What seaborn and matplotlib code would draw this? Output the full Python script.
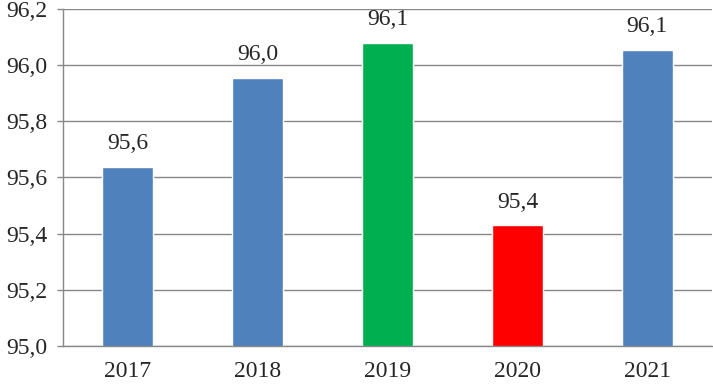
from matplotlib import pyplot as plt
from matplotlib.ticker import FuncFormatter, MultipleLocator
import pandas as pd
import seaborn as sns

years = ["2017", "2018", "2019", "2020", "2021"]
values = [95.638, 95.955, 96.080, 95.429, 96.055]
labels = ["95,6", "96,0", "96,1", "95,4", "96,1"]
colors = ["#4F81BD", "#4F81BD", "#00B050", "#FF0000", "#4F81BD"]

data = pd.DataFrame({"year": years, "value": values})

sns.set_style("white")
plt.rcParams["font.family"] = ["Liberation Serif", "DejaVu Serif"]
grid_color = "#888888"

fig, ax = plt.subplots(figsize=(7.13, 3.84), dpi=100)
fig.subplots_adjust(left=0.088, right=0.999, top=0.977, bottom=0.099)

sns.barplot(data=data, x="year", y="value", hue="year", palette=colors,
            dodge=False, legend=False, width=0.39, saturation=1, ax=ax)

ax.set_ylim(95.0, 96.2)
ax.set_xlim(-0.5, 4.5)
ax.yaxis.set_major_locator(MultipleLocator(0.2))
ax.yaxis.set_major_formatter(FuncFormatter(lambda v, p: f"{v:.1f}".replace(".", ",")))
ax.grid(axis="y", color=grid_color, linewidth=1.0)
ax.set_axisbelow(True)

for s in ["top", "right"]:
    ax.spines[s].set_visible(False)
for s in ["left", "bottom"]:
    ax.spines[s].set_color(grid_color)
    ax.spines[s].set_linewidth(1.0)

ax.set_xticks([i - 0.5 for i in range(6)], minor=True)
ax.tick_params(axis="x", which="major", length=0, pad=11, labelsize=17)
ax.tick_params(axis="x", which="minor", length=4, color=grid_color, width=1.0, direction="out")
ax.tick_params(axis="y", length=4, color=grid_color, width=1.0, pad=7, labelsize=17, left=True)

for i, (v, t) in enumerate(zip(values, labels)):
    ax.annotate(t, (i, v), xytext=(0, 9), textcoords="offset points",
                ha="center", va="bottom", fontsize=17)

ax.set_xlabel("")
ax.set_ylabel("")
plt.savefig("out.png")
plt.close()
